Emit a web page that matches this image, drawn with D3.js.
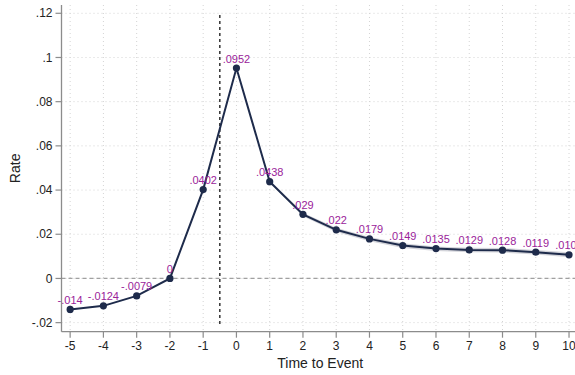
<!DOCTYPE html>
<html><head><meta charset="utf-8">
<script src="https://cdn.jsdelivr.net/npm/d3@7"></script>
<style>body{margin:0;background:#fff}svg{display:block;font-family:"Liberation Sans",Arial,sans-serif}</style>
</head><body><svg id="c" width="575" height="375"></svg>
<script>
const times = [-5,-4,-3,-2,-1,0,1,2,3,4,5,6,7,8,9,10];
const rates = [-0.014,-0.0124,-0.0079,0,0.0402,0.0952,0.0438,0.029,0.022,0.0179,0.0149,0.0135,0.0129,0.0128,0.0119,0.0107];
const labels = ["-.014","-.0124","-.0079","0",".0402",".0952",".0438",".029",".022",".0179",".0149",".0135",".0129",".0128",".0119",".0107"];
const ciTimes = [1,2,3,4,5,6,7,8,9,10];
const ciLower = [0.0432,0.0282,0.0210,0.0168,0.0138,0.0124,0.0118,0.0117,0.0108,0.0096];
const ciUpper = [0.0444,0.0297,0.0229,0.0188,0.0159,0.0145,0.0139,0.0138,0.0129,0.0118];
const yTicks = [-0.02,0,0.02,0.04,0.06,0.08,0.1,0.12];
const yTickLabels = ["-.02","0",".02",".04",".06",".08",".1",".12"];
const xTicks = [-5,-4,-3,-2,-1,0,1,2,3,4,5,6,7,8,9,10];
const eventLine = -0.5;

const svg = d3.select("#c");
const L = 61.5, R = 579, T = 5, B = 331.7;
const x = d3.scaleLinear().domain([-5.26, 10.3]).range([L, R]);
const y = d3.scaleLinear().domain([-0.0241, 0.12375]).range([B, T]);

// grid
const g = svg.append("g");
g.selectAll("line.gy").data(yTicks).join("line")
  .attr("x1", L).attr("x2", R).attr("y1", d=>y(d)).attr("y2", d=>y(d))
  .attr("stroke", "#d4d4d4").attr("stroke-width", 1).attr("stroke-dasharray", "1,3");
g.selectAll("line.gx").data(xTicks).join("line")
  .attr("y1", T).attr("y2", B).attr("x1", d=>x(d)).attr("x2", d=>x(d))
  .attr("stroke", "#d4d4d4").attr("stroke-width", 1).attr("stroke-dasharray", "1,3");

// zero line
svg.append("line").attr("x1", L).attr("x2", R).attr("y1", y(0)).attr("y2", y(0))
  .attr("stroke", "#a0a0a0").attr("stroke-width", 1.2).attr("stroke-dasharray", "4,3");

// event line
svg.append("line").attr("x1", x(eventLine)).attr("x2", x(eventLine)).attr("y1", 15).attr("y2", 324)
  .attr("stroke", "#333").attr("stroke-width", 1.5).attr("stroke-dasharray", "3,3");

// CI band
const ci = ciTimes.map((t,i)=>({t, lo:ciLower[i], hi:ciUpper[i]}));
svg.append("path").datum(ci)
  .attr("d", d3.area().x(d=>x(d.t)).y0(d=>y(d.lo)).y1(d=>y(d.hi)))
  .attr("fill", "#c4c6ce").attr("opacity", 0.75);

// line
const pts = times.map((t,i)=>({t, v:rates[i], lab:labels[i]}));
svg.append("path").datum(pts)
  .attr("d", d3.line().x(d=>x(d.t)).y(d=>y(d.v)))
  .attr("fill", "none").attr("stroke", "#1e2b4b").attr("stroke-width", 2);
svg.selectAll("circle.m").data(pts).join("circle")
  .attr("cx", d=>x(d.t)).attr("cy", d=>y(d.v)).attr("r", 3.6).attr("fill", "#1e2b4b");
svg.selectAll("text.lab").data(pts).join("text")
  .attr("x", d=>x(d.t)).attr("y", d=>y(d.v)-5.5).attr("text-anchor", "middle")
  .attr("font-size", 11).attr("fill", "#9a239a").text(d=>d.lab);

// axes
const ax = svg.append("g");
ax.append("line").attr("x1", L).attr("x2", L).attr("y1", T).attr("y2", B).attr("stroke", "#8c8c8c").attr("stroke-width", 1.3);
ax.append("line").attr("x1", L).attr("x2", R).attr("y1", B).attr("y2", B).attr("stroke", "#8c8c8c").attr("stroke-width", 1.3);
ax.selectAll("line.ty").data(yTicks).join("line")
  .attr("x1", L-6).attr("x2", L).attr("y1", d=>y(d)).attr("y2", d=>y(d)).attr("stroke", "#8c8c8c").attr("stroke-width", 1.2);
ax.selectAll("text.ty").data(yTicks).join("text")
  .attr("x", L-9).attr("y", d=>y(d)).attr("dy", "0.35em").attr("text-anchor", "end")
  .attr("font-size", 12).attr("fill", "#222").text((d,i)=>yTickLabels[i]);
ax.selectAll("line.tx").data(xTicks).join("line")
  .attr("y1", B).attr("y2", B+6).attr("x1", d=>x(d)).attr("x2", d=>x(d)).attr("stroke", "#8c8c8c").attr("stroke-width", 1.2);
ax.selectAll("text.tx").data(xTicks).join("text")
  .attr("x", d=>x(d)).attr("y", B+18.5).attr("text-anchor", "middle")
  .attr("font-size", 12).attr("fill", "#222").text(d=>d);

svg.append("text").attr("x", (L+R)/2).attr("y", 368).attr("text-anchor", "middle")
  .attr("font-size", 14).attr("fill", "#222").text("Time to Event");
svg.append("text").attr("transform", `translate(20,${(T+B)/2}) rotate(-90)`).attr("text-anchor", "middle")
  .attr("font-size", 14).attr("fill", "#222").text("Rate");
</script></body></html>
